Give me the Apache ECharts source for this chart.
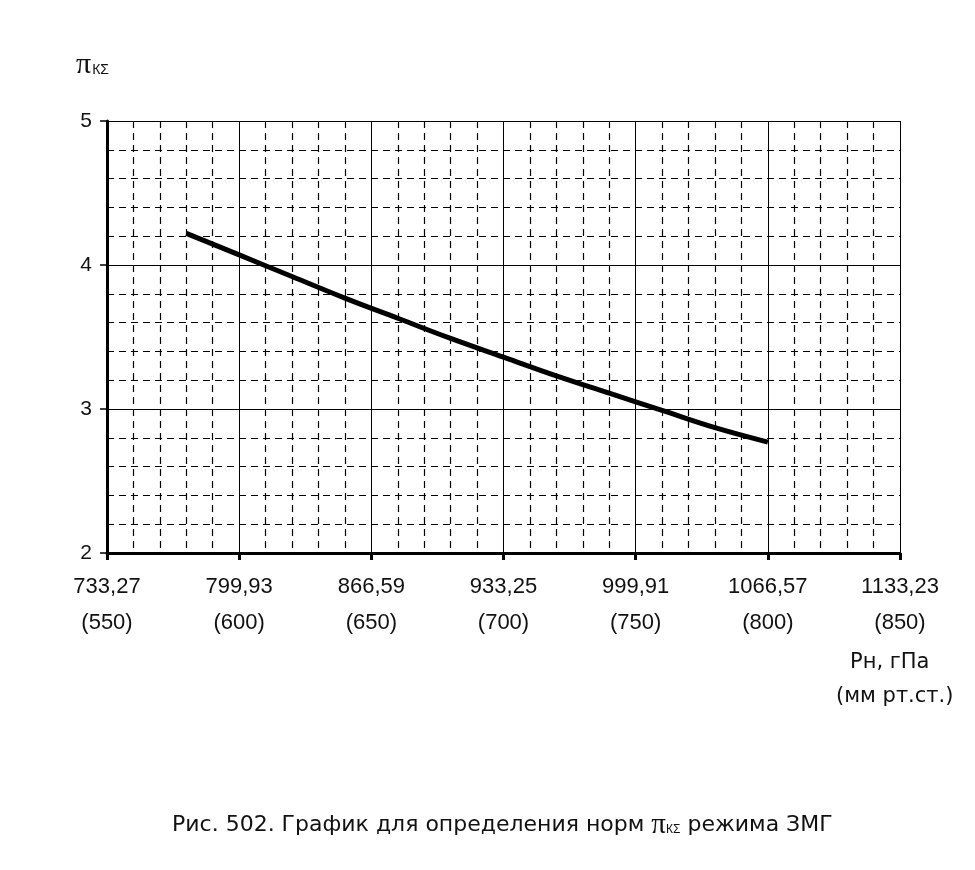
<!DOCTYPE html>
<html>
<head>
<meta charset="utf-8">
<script src="https://cdn.jsdelivr.net/npm/echarts@6/dist/echarts.min.js"></script>
<style>html,body{margin:0;padding:0;background:#fff;}#c{width:975px;height:870px;}</style>
</head>
<body>
<div id="c"></div>
<script>
// Data (x in мм рт.ст., y = π_KΣ)
const pressureMm = [580, 600, 620, 640, 660, 680, 700, 720, 740, 760, 780, 800];
const piValues   = [4.22, 4.07, 3.92, 3.77, 3.63, 3.49, 3.36, 3.23, 3.11, 2.99, 2.87, 2.77];
const xTicksMm   = [550, 600, 650, 700, 750, 800, 850];
const xTicksHpa  = ['733,27', '799,93', '866,59', '933,25', '999,91', '1066,57', '1133,23'];
const yTicks     = [2, 3, 4, 5];

const chart = echarts.init(document.getElementById('c'));
const font = '"Liberation Sans", Arial, sans-serif';
const cyr = '"DejaVu Sans", "Liberation Sans", sans-serif';
const serif = '"Liberation Serif", "DejaVu Serif", serif';
chart.setOption({
  backgroundColor: '#fff',
  animation: false,
  grid: { left: 107, right: 75, top: 121, bottom: 317 },
  xAxis: {
    type: 'value', min: 550, max: 850, interval: 50,
    axisLine: { show: true, onZero: false, lineStyle: { color: '#000', width: 3 } },
    axisTick: { show: true, length: 7, lineStyle: { color: '#000', width: 3 } },
    axisLabel: {
      margin: 16,
      formatter: v => {
        const i = xTicksMm.indexOf(v);
        return '{a|' + xTicksHpa[i] + '}\n{b|(' + v + ')}';
      },
      rich: {
        a: { fontSize: 22, fontFamily: font, color: '#111', lineHeight: 36 },
        b: { fontSize: 22, fontFamily: font, color: '#111', lineHeight: 36 }
      }
    },
    splitLine: { show: true, lineStyle: { color: '#000', width: 1 } },
    minorTick: { show: false, splitNumber: 5 },
    minorSplitLine: { show: true, lineStyle: { color: '#000', width: 1.2, type: [7, 5] } }
  },
  yAxis: {
    type: 'value', min: 2, max: 5, interval: 1,
    axisLine: { show: true, onZero: false, lineStyle: { color: '#000', width: 3 } },
    axisTick: { show: true, length: 7, lineStyle: { color: '#000', width: 1.5 } },
    axisLabel: {
      margin: 15, fontSize: 21, fontFamily: font, color: '#111',
      formatter: v => yTicks.includes(v) ? String(v) : ''
    },
    splitLine: { show: true, lineStyle: { color: '#000', width: 1 } },
    minorTick: { show: false, splitNumber: 5 },
    minorSplitLine: { show: true, lineStyle: { color: '#000', width: 1.2, type: [7, 5] } }
  },
  series: [{
    type: 'line',
    data: pressureMm.map((x, i) => [x, piValues[i]]),
    smooth: 0.4,
    showSymbol: false,
    lineStyle: { color: '#000', width: 5 }
  }],
  graphic: [
    { type: 'text', left: 76, top: 50,
      style: { text: '{p|π}{s|КΣ}', rich: {
        p: { fontSize: 30, fontFamily: serif, fill: '#111' },
        s: { fontSize: 14, fontFamily: font, fill: '#111', padding: [10, 0, 0, 1] }
      } } },
    { type: 'text', left: 850, top: 652,
      style: { text: 'Рн, гПа', fontSize: 21, fontFamily: cyr, fill: '#111' } },
    { type: 'text', left: 836, top: 686,
      style: { text: '(мм рт.ст.)', fontSize: 21, fontFamily: cyr, fill: '#111' } },
    { type: 'text', left: 172, top: 811,
      style: { text: '{t|Рис. 502. График для определения норм }{p|π}{s|КΣ}{t| режима ЗМГ}', rich: {
        t: { fontSize: 22, fontFamily: cyr, fill: '#111' },
        p: { fontSize: 29, fontFamily: serif, fill: '#111' },
        s: { fontSize: 12, fontFamily: font, fill: '#111', padding: [9, 0, 0, 0] }
      } } }
  ]
});
</script>
</body>
</html>
